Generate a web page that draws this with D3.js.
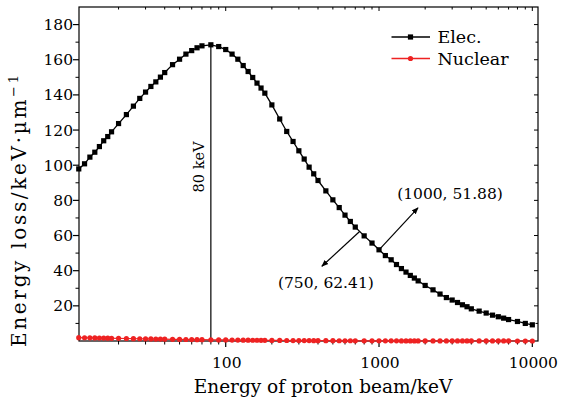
<!DOCTYPE html>
<html>
<head>
<meta charset="utf-8">
<script src="https://cdn.jsdelivr.net/npm/d3@7"></script>
<style>
  body { margin: 0; background: #fff; }
  svg text { font-family: "DejaVu Serif", serif; fill: #000; }
</style>
</head>
<body>
<svg id="chart" width="562" height="403"></svg>
<script>
// proton energies (keV), SRIM-style table
const energies = [11, 12, 13, 14, 15, 16, 17, 18, 20, 22.5, 25, 27.5, 30, 32.5, 35, 37.5, 40, 45, 50, 55, 60, 65, 70, 80, 90,
    100, 110, 120, 130, 140, 150, 160, 170, 180, 200, 225, 250, 275, 300, 325, 350, 375, 400, 450, 500, 550, 600, 650, 700, 800, 900,
    1000, 1100, 1200, 1300, 1400, 1500, 1600, 1700, 1800, 2000, 2250, 2500, 2750, 3000, 3250, 3500, 3750, 4000, 4500, 5000, 5500,
    6000, 6500, 7000, 8000, 9000, 10000];
const elecLoss = [97.9, 100.8, 104.6, 107.4, 110.6, 113.9, 116.3, 119.0, 123.7, 128.8, 133.6, 138.0, 141.6, 144.8, 147.4, 150.1,
    152.7, 157.2, 160.3, 163.2, 165.2, 166.8, 167.9, 168.5, 167.5,
    165.8, 163.2, 160.3, 156.7, 153.3, 149.9, 146.7, 143.9, 141.0, 134.3, 126.3, 119.2, 113.5, 108.2, 103.5, 98.9, 95.1, 91.3,
    85.4, 80.3, 75.9, 71.6, 68.0, 64.8, 59.8, 55.7,
    51.88, 48.6, 46.2, 43.5, 41.2, 39.2, 37.3, 35.8, 34.2, 31.6, 29.1, 26.7, 24.7, 23.3, 21.9, 20.6, 19.5, 18.3, 17.0, 15.9, 14.7,
    13.8, 13.0, 12.2, 11.1, 10.0, 9.2];
const nuclLoss = [1.9, 1.85, 1.8, 1.75, 1.7, 1.65, 1.6, 1.55, 1.5, 1.42, 1.35, 1.28, 1.22, 1.17, 1.12, 1.08, 1.04, 0.97, 0.91,
    0.86, 0.81, 0.77, 0.74, 0.68, 0.63,
    0.59, 0.55, 0.52, 0.49, 0.46, 0.44, 0.42, 0.40, 0.38, 0.35, 0.32, 0.29, 0.27, 0.25, 0.23, 0.22, 0.21, 0.20, 0.18, 0.16, 0.15,
    0.14, 0.13, 0.12, 0.11, 0.10,
    0.09, 0.083, 0.077, 0.072, 0.068, 0.064, 0.060, 0.057, 0.054, 0.049, 0.045, 0.041, 0.038, 0.035, 0.033, 0.031, 0.029, 0.027,
    0.024, 0.022, 0.020, 0.019, 0.017, 0.016, 0.014, 0.013, 0.012];
const xTickLabels = [100, 1000, 10000];
const yTickLabels = [20, 40, 60, 80, 100, 120, 140, 160, 180];
const peakEnergy = 80;
const notes = [
    { e: 750, v: 62.41, label: '(750, 62.41)', dx: -38, dy: 35, tx: -34, ty: 57 },
    { e: 1000, v: 51.88, label: '(1000, 51.88)', dx: 39, dy: -42, tx: 71, ty: -51 }
];

const svg = d3.select('#chart');
const pLeft = 79, pRight = 538, pTop = 7, pBottom = 341;

const x = d3.scaleLog().domain([11.04, 10890]).range([pLeft, pRight]);
const y = d3.scaleLinear().domain([0, 190]).range([pBottom, pTop]);

const elec = energies.map((e, i) => ({ e, v: elecLoss[i] }));
const nucl = energies.map((e, i) => ({ e, v: nuclLoss[i] }));

// minor tick values
const xMinor = [];
for (let d = 10; d <= 10000; d *= 10) {
    for (let k = 2; k < 10; k++) {
        const t = d * k;
        if (t > 11.04 && t < 10890) xMinor.push(t);
    }
}
const yMinor = d3.range(10, 190, 20);

// frame
svg.append('rect')
    .attr('x', pLeft).attr('y', pTop)
    .attr('width', pRight - pLeft).attr('height', pBottom - pTop)
    .attr('fill', 'none').attr('stroke', '#000').attr('stroke-width', 1.2);

// bottom axis
const gx = svg.append('g');
gx.selectAll('.maj').data(xTickLabels).enter().append('line')
    .attr('x1', d => x(d)).attr('x2', d => x(d))
    .attr('y1', pBottom).attr('y2', pBottom + 6)
    .attr('stroke', '#000').attr('stroke-width', 1.2);
gx.selectAll('.min').data(xMinor).enter().append('line')
    .attr('x1', d => x(d)).attr('x2', d => x(d))
    .attr('y1', pBottom).attr('y2', pBottom + 3.5)
    .attr('stroke', '#000').attr('stroke-width', 1);
gx.selectAll('text').data(xTickLabels).enter().append('text')
    .attr('x', d => x(d) + 1).attr('y', 368)
    .attr('text-anchor', 'middle').attr('font-size', 15.5)
    .text(d => d);

// top axis mirror ticks (inward)
svg.append('g').selectAll('line').data(xTickLabels.concat(xMinor)).enter().append('line')
    .attr('x1', d => x(d)).attr('x2', d => x(d))
    .attr('y1', pTop).attr('y2', d => pTop + (xTickLabels.includes(d) ? 4 : 2.5))
    .attr('stroke', '#000').attr('stroke-width', 1);

// left axis
const gy = svg.append('g');
gy.selectAll('.maj').data(yTickLabels).enter().append('line')
    .attr('x1', pLeft - 6).attr('x2', pLeft)
    .attr('y1', d => y(d)).attr('y2', d => y(d))
    .attr('stroke', '#000').attr('stroke-width', 1.2);
gy.selectAll('.min').data(yMinor).enter().append('line')
    .attr('x1', pLeft - 3.5).attr('x2', pLeft)
    .attr('y1', d => y(d)).attr('y2', d => y(d))
    .attr('stroke', '#000').attr('stroke-width', 1);
gy.selectAll('text').data(yTickLabels).enter().append('text')
    .attr('x', 73).attr('y', d => y(d))
    .attr('dy', '0.36em')
    .attr('text-anchor', 'end').attr('font-size', 15.5)
    .text(d => d);

// right axis mirror ticks (inward)
svg.append('g').selectAll('line').data(yTickLabels.concat(yMinor)).enter().append('line')
    .attr('x1', d => pRight - (yTickLabels.includes(d) ? 4 : 2.5)).attr('x2', pRight)
    .attr('y1', d => y(d)).attr('y2', d => y(d))
    .attr('stroke', '#000').attr('stroke-width', 1);

// axis titles
svg.append('text')
    .attr('x', 323).attr('y', 393)
    .attr('text-anchor', 'middle').attr('font-size', 18.5)
    .text('Energy of proton beam/keV');

const yt = svg.append('text')
    .attr('transform', 'translate(26,211) rotate(-90)')
    .attr('text-anchor', 'middle').attr('font-size', 20)
    .attr('textLength', 272).attr('lengthAdjust', 'spacing');
yt.append('tspan').text('Energy loss/keV·µm');
yt.append('tspan').attr('dy', -8).attr('font-size', 13).text('−1');

// peak marker line
svg.append('line')
    .attr('x1', x(peakEnergy)).attr('x2', x(peakEnergy))
    .attr('y1', y(elecLoss[energies.indexOf(peakEnergy)])).attr('y2', y(0))
    .attr('stroke', '#000').attr('stroke-width', 1.2);
svg.append('text')
    .attr('transform', `translate(${x(peakEnergy) - 7},${y(99)}) rotate(-90)`)
    .attr('text-anchor', 'middle').attr('font-size', 14.5)
    .text(peakEnergy + ' keV');

// series
const line = d3.line().x(d => x(d.e)).y(d => y(d.v));
svg.append('path').datum(nucl)
    .attr('d', line).attr('fill', 'none')
    .attr('stroke', '#ee2222').attr('stroke-width', 1.2);
svg.append('g').selectAll('circle').data(nucl).enter().append('circle')
    .attr('cx', d => x(d.e)).attr('cy', d => y(d.v))
    .attr('r', 2.6).attr('fill', '#ee2222');

svg.append('path').datum(elec)
    .attr('d', line).attr('fill', 'none')
    .attr('stroke', '#000').attr('stroke-width', 1.3);
svg.append('g').selectAll('rect').data(elec).enter().append('rect')
    .attr('x', d => x(d.e) - 2.6).attr('y', d => y(d.v) - 2.6)
    .attr('width', 5.2).attr('height', 5.2).attr('fill', '#000');

// arrows + labels
svg.append('defs').append('marker')
    .attr('id', 'arr').attr('viewBox', '0 0 10 10')
    .attr('refX', 9).attr('refY', 5)
    .attr('markerWidth', 7).attr('markerHeight', 7)
    .attr('markerUnits', 'userSpaceOnUse')
    .attr('orient', 'auto')
    .append('path').attr('d', 'M0,1 L10,5 L0,9 Z').attr('fill', '#000');

notes.forEach(n => {
    const px = x(n.e), py = y(n.v);
    svg.append('line')
        .attr('x1', px).attr('y1', py)
        .attr('x2', px + n.dx).attr('y2', py + n.dy)
        .attr('stroke', '#000').attr('stroke-width', 1.2)
        .attr('marker-end', 'url(#arr)');
    svg.append('text')
        .attr('x', px + n.tx).attr('y', py + n.ty)
        .attr('text-anchor', 'middle').attr('font-size', 15.5)
        .text(n.label);
});

// legend
const legend = [
    { name: 'Elec.', color: '#000', shape: 'rect', y: 37 },
    { name: 'Nuclear', color: '#ee2222', shape: 'circle', y: 58.5 }
];
const lg = svg.append('g');
legend.forEach(l => {
    lg.append('line')
        .attr('x1', 391.5).attr('x2', 430)
        .attr('y1', l.y).attr('y2', l.y)
        .attr('stroke', l.color).attr('stroke-width', 1.3);
    if (l.shape === 'rect') {
        lg.append('rect').attr('x', 410.5 - 2.6).attr('y', l.y - 2.6)
            .attr('width', 5.2).attr('height', 5.2).attr('fill', l.color);
    } else {
        lg.append('circle').attr('cx', 410.5).attr('cy', l.y).attr('r', 2.6).attr('fill', l.color);
    }
    lg.append('text')
        .attr('x', 437.5).attr('y', l.y + 6)
        .attr('font-size', 17.5)
        .text(l.name);
});
</script>
</body>
</html>
